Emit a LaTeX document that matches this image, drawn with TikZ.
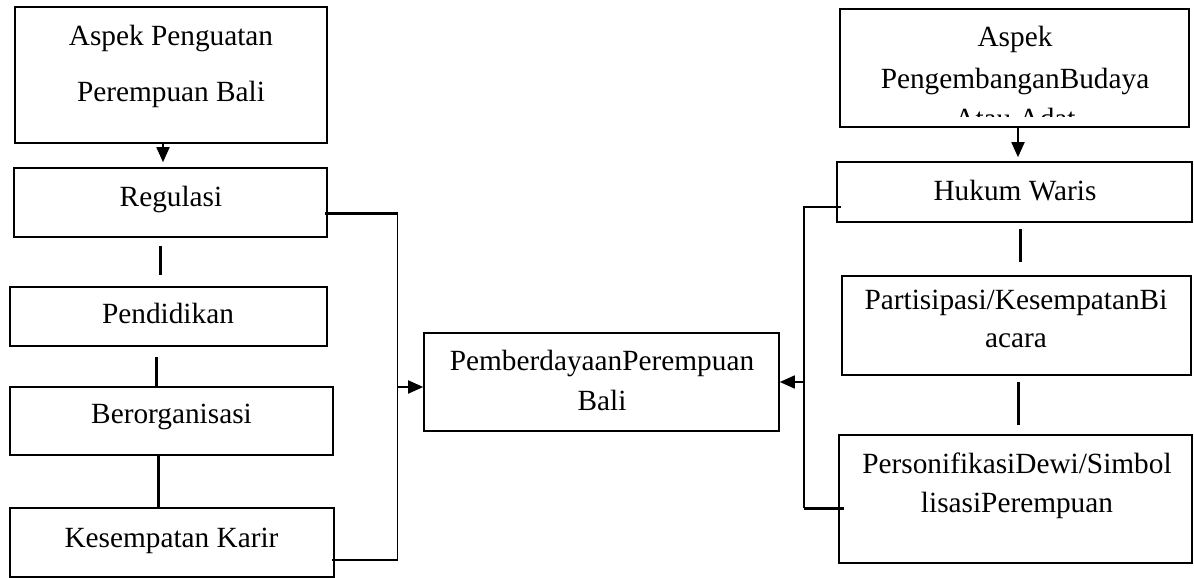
\documentclass[tikz,border=0pt]{standalone}
\usepackage{fontspec}
\setmainfont{Liberation Serif}
\usetikzlibrary{arrows.meta}
\begin{document}
\begin{tikzpicture}[x=1bp,y=-1bp,
  box/.style={draw, line width=1.6bp, inner sep=0pt},
  txt/.style={anchor=base, inner sep=0pt, font=\fontsize{29.3bp}{36bp}\selectfont},
  link/.style={line width=1.8bp},
  bar/.style={line width=3bp},
  arr/.style={line width=1.8bp, -{Triangle[length=15bp,width=13bp]}}]
\useasboundingbox (0,0) rectangle (1194,578);

% boxes
\node[box, minimum width=312bp, minimum height=136bp] (A)   at (171,75) {};
\node[box, minimum width=313bp, minimum height=69bp]  (Reg) at (170.5,202.5) {};
\node[box, minimum width=317bp, minimum height=59bp]  (Pen) at (168.5,316.5) {};
\node[box, minimum width=323bp, minimum height=68bp]  (Ber) at (171.5,421) {};
\node[box, minimum width=324bp, minimum height=69bp]  (Kar) at (172,542.5) {};
\node[box, minimum width=355bp, minimum height=98bp]  (Cen) at (601.5,382) {};
\node[box, minimum width=349bp, minimum height=118bp] (B)   at (1014.5,68) {};
\node[box, minimum width=355bp, minimum height=60bp]  (Huk) at (1014.5,192) {};
\node[box, minimum width=349bp, minimum height=99bp]  (Par) at (1016.5,325.5) {};
\node[box, minimum width=353bp, minimum height=128bp] (Per) at (1015.5,499) {};

% texts
\node[txt] (tA1) at (171,46) {Aspek Penguatan};
\node[txt] (tA2) at (171,102) {Perempuan Bali};
\node[txt] (tReg) at (171,207) {Regulasi};
\node[txt] (tPen) at (168,323.5) {Pendidikan};
\node[txt] (tBer) at (171.5,423.5) {Berorganisasi};
\node[txt] (tKar) at (171.5,547) {Kesempatan Karir};
\node[txt] (tC1) at (602,370) {PemberdayaanPerempuan};
\node[txt] (tC2) at (602,410) {Bali};
\node[txt] (tB1) at (1015,47) {Aspek};
\node[txt] (tB2) at (1015,88.5) {PengembanganBudaya};
\begin{scope}
  \clip (841,11) rectangle (1188,117);
  \node[txt] (tB3) at (1015,128.5) {Atau Adat};
\end{scope}
\node[txt] (tHuk) at (1015,200.5) {Hukum Waris};
\node[txt] (tP1) at (1016,310) {Partisipasi/KesempatanBi};
\node[txt] (tP2) at (1016,348) {acara};
\node[txt] (tS1) at (1017,473) {PersonifikasiDewi/Simbol};
\node[txt] (tS2) at (1017,512) {lisasiPerempuan};

% helper coordinates
\coordinate (a1) at (163,0);
\coordinate (b1) at (1018,0);
\coordinate (c1) at (160.5,0);
\coordinate (c2) at (156.5,0);
\coordinate (c3) at (158.5,0);
\coordinate (d1) at (1020,0);
\coordinate (d2) at (1018,0);
\coordinate (r1) at (0,214);
\coordinate (k1) at (0,560);
\coordinate (h1) at (0,207);
\coordinate (p1) at (0,508);
\coordinate (jl) at (397.5,387);
\coordinate (jr) at (804,382);

% arrows from headers
\draw[arr, shorten >=5bp] (A.south -| a1) -- (Reg.north -| a1);
\draw[arr, shorten >=4bp] (B.south -| b1) -- (Huk.north -| b1);

% short bars between boxes
\draw[bar, shorten <=8bp, shorten >=11bp] (Reg.south -| c1) -- (Pen.north -| c1);
\draw[bar, shorten <=10bp] (Pen.south -| c2) -- (Ber.north -| c2);
\draw[bar] (Ber.south -| c3) -- (Kar.north -| c3);
\draw[bar, shorten <=6bp, shorten >=13bp] (Huk.south -| d1) -- (Par.north -| d1);
\draw[bar, shorten <=6bp, shorten >=9bp] (Par.south -| d2) -- (Per.north -| d2);

% left collector
\draw[bar] ([xshift=-3bp]Reg.east |- r1) -- (jl |- r1);
\draw[link] (jl |- r1) -- (jl);
\draw[link] ([xshift=-3bp]Kar.east |- k1) -| (jl);
\draw[arr] (jl) -- (Cen.west |- jl);

% right collector
\draw[link] ([xshift=5bp]Huk.west |- h1) -| (jr);
\draw[bar] ([xshift=6bp]Per.west |- p1) -- (jr |- p1);
\draw[link] (jr |- p1) -- (jr);
\draw[arr] (jr) -- (Cen.east |- jr);
\end{tikzpicture}
\end{document}
